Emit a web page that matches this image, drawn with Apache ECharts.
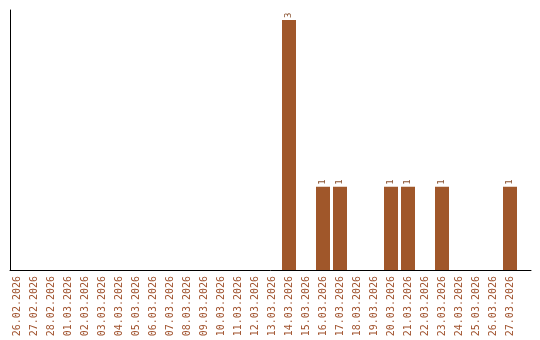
<!DOCTYPE html>
<html>
<head>
<meta charset="utf-8">
<script src="https://cdn.jsdelivr.net/npm/echarts@6/dist/echarts.min.js"></script>
<style>html,body{margin:0;padding:0;background:#fff}#c{width:540px;height:340px}</style>
</head>
<body>
<div id="c"></div>
<script>
var categories = ['26.02.2026','27.02.2026','28.02.2026','01.03.2026','02.03.2026','03.03.2026','04.03.2026','05.03.2026','06.03.2026','07.03.2026','08.03.2026','09.03.2026','10.03.2026','11.03.2026','12.03.2026','13.03.2026','14.03.2026','15.03.2026','16.03.2026','17.03.2026','18.03.2026','19.03.2026','20.03.2026','21.03.2026','22.03.2026','23.03.2026','24.03.2026','25.03.2026','26.03.2026','27.03.2026'];
var counts = [0,0,0,0,0,0,0,0,0,0,0,0,0,0,0,0,3,0,1,1,0,0,1,1,0,1,0,0,0,1];
var yMax = 3.12;
var brown = '#a0572a';
var chart = echarts.init(document.getElementById('c'), null, {renderer:'canvas'});
chart.setOption({
  animation: false,
  grid: [
    {left: 10, right: 9, top: 10, bottom: 70},
    {left: 8.5, right: 21.5, top: 10, bottom: 70}
  ],
  xAxis: [
    {gridIndex: 0, type: 'value', min: 0, max: 1, axisLine: {show: true, onZero: false, lineStyle: {color: '#000', width: 1}}, axisTick: {show: false}, axisLabel: {show: false}, splitLine: {show: false}},
    {gridIndex: 1, type: 'category', data: categories, axisLine: {show: false}, axisTick: {show: false},
     axisLabel: {interval: 0, rotate: 90, margin: 6, color: '#a0522d', fontFamily: 'DejaVu Sans Mono', fontSize: 10}}
  ],
  yAxis: [
    {gridIndex: 0, type: 'value', min: 0, max: yMax, axisLine: {show: true, lineStyle: {color: '#000', width: 1}}, axisTick: {show: false}, axisLabel: {show: false}, splitLine: {show: false}},
    {gridIndex: 1, type: 'value', min: 0, max: yMax, show: false}
  ],
  series: [{
    type: 'bar', xAxisIndex: 1, yAxisIndex: 1, data: counts, barWidth: 14,
    itemStyle: {color: brown},
    label: {show: true, position: 'top', rotate: 90, distance: 2, align: 'left', verticalAlign: 'middle',
      color: '#8a5230', fontFamily: 'DejaVu Sans Mono', fontSize: 9,
      formatter: function(p){ return p.value ? String(p.value) : ''; }}
  }]
});
</script>
</body>
</html>
